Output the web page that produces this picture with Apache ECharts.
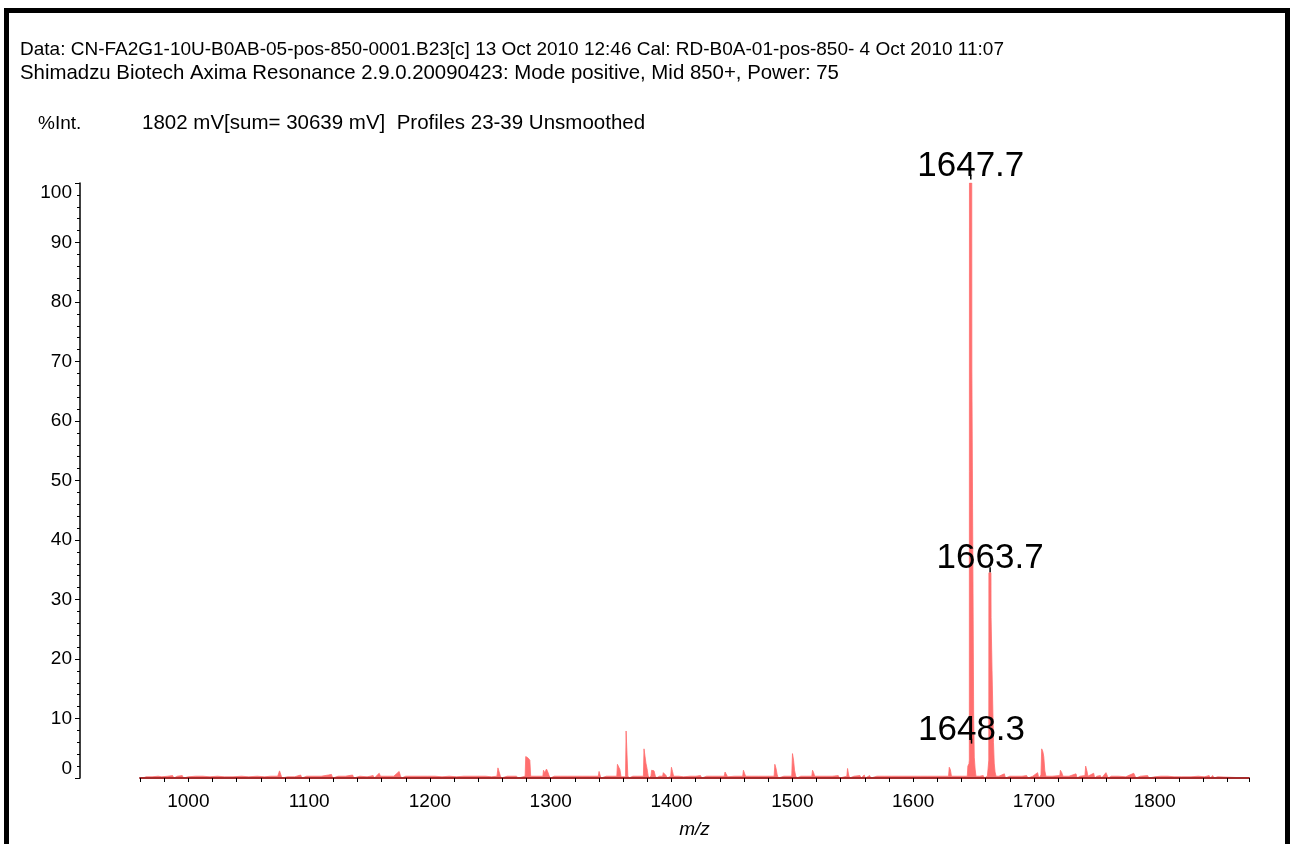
<!DOCTYPE html>
<html>
<head>
<meta charset="utf-8">
<script src="https://cdn.jsdelivr.net/npm/echarts@6/dist/echarts.min.js"></script>
<style>
html,body{margin:0;padding:0;background:#fff;}
#chart{width:1293px;height:844px;}
</style>
</head>
<body>
<div id="chart"></div>
<script>
// ---- header texts ----
const headerLine1 = 'Data: CN-FA2G1-10U-B0AB-05-pos-850-0001.B23[c] 13 Oct 2010 12:46 Cal: RD-B0A-01-pos-850- 4 Oct 2010 11:07';
const headerLine2 = 'Shimadzu Biotech Axima Resonance 2.9.0.20090423: Mode positive, Mid 850+, Power: 75';
const yUnitLabel = '%Int.';
const acquisitionInfo = '1802 mV[sum= 30639 mV]  Profiles 23-39 Unsmoothed';
const xAxisTitle = 'm/z';

// ---- axis ranges ----
const xRange = [960, 1878];
const yRange = [0, 100];

// ---- spectrum profile [m/z, %Int] ----
const profile960to1250 = [
  [960,0],[961.5,0.3],[962.5,0],[965,0.2],[966,0],[970,0.2],[971,0],[975,0.3],[976,0],
  [978,0.2],[979,0],[983,0.3],[984,0],[987,0.4],[988,0],[991,0.3],[992,0],[995,0.4],[996,0],
  [1000,0.2],[1001,0],[1006,0.3],[1007,0],[1012,0.3],[1013,0],[1018,0.2],[1019,0],
  [1024,0.3],[1025,0],[1030,0.2],[1031,0],[1037,0.2],[1038,0],[1044,0.3],[1045,0],
  [1050,0.2],[1051,0],[1057,0.3],[1058,0],[1063,0.2],[1064,0],[1068,0.3],[1069,0],
  [1074,0.3],[1075.5,1.2],[1076.5,1.0],[1077.5,0],[1082,0.2],[1083,0],[1088,0.2],[1089,0],
  [1093,0.5],[1094,0],[1098,0.3],[1099,0],[1104,0.3],[1105,0],[1110,0.3],[1111,0],
  [1116,0.5],[1117.5,0.8],[1118.5,0.6],[1119.5,0],[1124,0.3],[1125,0],[1130,0.3],[1131,0],
  [1136,0.5],[1137,0],[1142,0.3],[1143,0],[1148,0.2],[1149,0],[1153,0.4],[1154,0],
  [1158,0.8],[1159,0.3],[1160,0],[1165,0.3],[1166,0],[1170,0.3],[1171,0],
  [1174.5,1.1],[1175.5,0.4],[1176.5,0],[1180,0.3],[1181,0],[1186,0.3],[1187,0],
  [1192,0.3],[1193,0],[1198,0.3],[1199,0],[1204,0.3],[1205,0],[1210,0.2],[1211,0],
  [1216,0.3],[1217,0],[1222,0.2],[1223,0],[1228,0.3],[1229,0],[1234,0.3],[1235,0],
  [1240,0.3],[1241,0],[1246,0.3],[1247,0]
];
const profile1250to1640 = [
  [1251,0.2],[1252,0],[1255.5,0.3],[1256.3,1.7],[1257.2,1.1],[1258.2,0.4],[1259,0],
  [1264,0.3],[1265,0],[1271.5,0.3],[1272.3,0.6],[1273.2,0],
  [1278.8,0.3],[1279.3,3.6],[1281,3.4],[1282.7,3.0],[1283.4,0.3],[1284.2,0],
  [1288,0.3],[1289,0],[1293.5,0.3],[1294,1.3],[1295,0.9],[1296.5,1.5],[1297.6,1.0],[1298.6,0.4],[1299.6,0],
  [1303,0.3],[1304,0],[1308,0.3],[1309,0],[1314,0.3],[1315,0],[1320,0.3],[1321,0],
  [1326,0.3],[1327,0],[1332,0.3],[1333,0],[1339.4,0.3],[1340,1.1],[1340.8,0.5],[1341.6,0],
  [1346,0.3],[1347,0],[1351,0.3],[1352,0],
  [1354.7,0.3],[1355.2,2.3],[1356.2,2.0],[1357.3,1.4],[1358.2,0.2],[1359,0],
  [1361.9,0.2],[1362.4,7.9],[1363.1,7.6],[1363.8,0.4],[1364.6,0],
  [1368,0.3],[1369,0],[1372,0.3],[1373,0],
  [1376.7,0.3],[1377.2,4.9],[1378.2,4.6],[1378.8,2.5],[1379.7,1.6],[1380.6,0.4],[1381.5,0],
  [1383,0.4],[1383.5,1.3],[1384.5,1.0],[1385.5,1.2],[1386.5,0.4],[1387.4,0],
  [1390,0.3],[1391,0],[1392.6,0.3],[1393.2,0.9],[1394.5,0.8],[1395.5,0.4],[1396.4,0],
  [1399.3,0.3],[1399.9,1.8],[1400.8,1.1],[1401.7,0.3],[1402.6,0],
  [1406,0.3],[1407,0],[1410,0.2],[1411,0],[1415.4,0.3],[1416,0.5],[1416.8,0],
  [1420,0.3],[1421,0],[1424,0.4],[1425,0],[1429,0.3],[1430,0],[1434,0.3],[1435,0],
  [1439,0.3],[1440,0],[1443.6,0.3],[1444.3,1.0],[1445.6,1.0],[1446.4,0.2],[1447.2,0],
  [1452,0.3],[1453,0],[1458.9,0.3],[1459.5,1.3],[1460.4,0.8],[1461.3,0.3],[1462.2,0],
  [1466,0.3],[1467,0],[1472,0.3],[1473,0],[1478,0.3],[1479,0],
  [1484.9,0.3],[1485.5,2.3],[1486.5,1.6],[1487.4,0.6],[1488.3,0],[1493,0.3],[1494,0],
  [1499.5,0.3],[1500.1,4.1],[1501,3.0],[1501.8,1.3],[1502.7,0.4],[1503.6,0],
  [1507,0.3],[1508,0],[1512,0.3],[1513,0],
  [1516.1,0.3],[1516.7,1.3],[1517.6,0.9],[1518.5,0.3],[1519.4,0],
  [1523,0.3],[1524,0],[1528,0.3],[1529,0],[1533,0.3],[1534,0],[1538,0.4],[1539,0],
  [1545.1,0.3],[1545.7,1.6],[1546.6,0.5],[1547.5,0],[1551,0.3],[1552,0],[1556,0.4],[1557,0],
  [1559.5,0.5],[1560.4,0],[1564,0.4],[1565,0],[1570,0.3],[1571,0],[1576,0.3],[1577,0],
  [1582,0.3],[1583,0],[1588,0.3],[1589,0],[1594,0.3],[1595,0],[1600,0.3],[1601,0],
  [1606,0.3],[1607,0],[1612,0.3],[1613,0],[1618,0.3],[1619,0],[1624,0.3],[1625,0],
  [1629.3,0.3],[1629.9,1.8],[1630.8,1.4],[1631.7,0.3],[1632.6,0],[1637,0.3],[1638,0]
];
const profile1640to1670 = [
  [1641,0.3],[1642,0],[1644.8,0.3],[1645.3,2.0],[1646.2,2.4],[1646.5,3.0],
  [1646.6,100],[1648.5,100],[1648.6,68.7],[1650.0,68.7],[1650.1,10],
  [1650.6,3.5],[1651.3,1.5],[1652.0,0.3],[1652.8,0],
  [1655,0.3],[1656,0],[1658,0.4],[1659,0],
  [1661.4,0.3],[1662.0,1.5],[1662.6,3.0],[1662.7,34.5],[1664.4,34.5],
  [1664.5,27],[1665.2,27],[1665.3,18],[1666.3,18],[1666.5,6],
  [1667.1,2.5],[1667.8,1.0],[1668.6,0.3],[1669.4,0]
];
const profile1670to1878 = [
  [1671,0.3],[1672,0],[1675.5,0.7],[1676.4,0],[1680,0.3],[1681,0],[1685,0.3],[1686,0],
  [1690,0.3],[1691,0],[1694,0.4],[1695,0],[1699,0.3],[1700,0],[1703,0.9],[1704,0],
  [1705.8,0.5],[1706.4,4.9],[1707.4,4.4],[1708.1,3.6],[1709,1.2],[1709.9,0.3],[1710.8,0],
  [1715,0.3],[1716,0],[1721.4,0.4],[1721.9,1.3],[1723,0.9],[1724,0.3],[1725,0],
  [1729,0.3],[1730,0],[1734.8,0.7],[1735.7,0],[1738,0.3],[1739,0],
  [1742.2,0.4],[1742.8,2.0],[1743.8,1.2],[1744.7,0.3],[1745.6,0],
  [1749.4,0.8],[1750.3,0],[1752,0.3],[1753,0],[1755,0.4],[1756,0],
  [1759.6,0.9],[1760.6,0.7],[1761.5,0],[1764,0.3],[1765,0],[1770,0.3],[1771,0],
  [1776,0.2],[1777,0],[1782.6,0.8],[1783.5,0.5],[1784.4,0],[1788,0.3],[1789,0],
  [1794.2,0.4],[1795,0],[1800,0.2],[1801,0],[1805,0.3],[1806,0],[1810.8,0.3],[1811.6,0],
  [1816,0.2],[1817,0],[1822,0.2],[1823,0],[1830,0.2],[1831,0],[1836,0.3],[1837,0],
  [1841,0.2],[1842,0],[1845,0.4],[1846,0],[1848,0.4],[1849,0],[1852,0.2],[1853,0],
  [1878,0]
];

// ---- peak annotations ----
const labelMz = [1647.7, 1663.7, 1648.3];
const labelIntensity = [101.0, 35.0, 6.2];

const FONT = '"Liberation Sans", Arial, sans-serif';
const PEAK_COLOR = '#ff6f6f';

const spectrum = profile960to1250.concat(profile1250to1640, profile1640to1670, profile1670to1878);
const annotations = labelMz.map((m, i) => [m, labelIntensity[i]]);

const chart = echarts.init(document.getElementById('chart'), null, {renderer: 'canvas'});
chart.setOption({
  animation: false,
  backgroundColor: '#fff',
  textStyle: {fontFamily: FONT},
  grid: {left: 140, right: 44, top: 183, bottom: 64, containLabel: false},
  xAxis: {
    type: 'value',
    min: xRange[0], max: xRange[1], interval: 20,
    z: 5,
    axisLine: {show: true, onZero: true, lineStyle: {color: '#a52c2c', width: 2}},
    axisTick: {show: true, length: 4, lineStyle: {color: '#000', width: 1}},
    axisLabel: {
      show: true, margin: 14, fontSize: 19, color: '#000', fontFamily: FONT,
      formatter: v => (Math.round(v) % 100 === 0 ? String(Math.round(v)) : '')
    },
    splitLine: {show: false},
    name: xAxisTitle, nameLocation: 'middle', nameGap: 42,
    nameTextStyle: {fontSize: 19, fontStyle: 'italic', color: '#000', fontFamily: FONT}
  },
  yAxis: {
    type: 'value',
    min: yRange[0], max: yRange[1], interval: 10,
    position: 'left', offset: 60,
    axisLine: {show: true, lineStyle: {color: '#000', width: 1.5}},
    axisTick: {show: true, length: 5, lineStyle: {color: '#000', width: 1}},
    minorTick: {show: true, splitNumber: 5, length: 3, lineStyle: {color: '#000', width: 1}},
    axisLabel: {
      show: true, margin: 8, fontSize: 19, color: '#000', fontFamily: FONT,
      verticalAlignMinLabel: 'bottom', verticalAlignMaxLabel: 'top'
    },
    splitLine: {show: false}
  },
  series: [
    {
      type: 'line',
      data: spectrum,
      showSymbol: false,
      symbol: 'none',
      sampling: false,
      lineStyle: {color: PEAK_COLOR, width: 0.8},
      areaStyle: {color: PEAK_COLOR, opacity: 1},
      z: 2
    },
    {
      type: 'scatter',
      data: annotations,
      clip: false,
      symbol: 'rect',
      symbolSize: [1.5, 5],
      itemStyle: {color: '#000', opacity: 1},
      z: 6,
      labelLayout: {hideOverlap: false},
      label: {
        show: true, position: 'top', distance: -9,
        fontSize: 35, color: '#000', opacity: 1, fontFamily: FONT,
        formatter: p => p.value[0].toFixed(1)
      }
    }
  ],
  graphic: [
    {type: 'rect', silent: true, z: 10,
     shape: {x: 6.5, y: 10.5, width: 1281, height: 900},
     style: {fill: 'none', stroke: '#000', lineWidth: 5}},
    {type: 'text', left: 20, top: 40, z: 10,
     style: {text: headerLine1, font: '19px ' + FONT, fill: '#000'}},
    {type: 'text', left: 20, top: 63, z: 10,
     style: {text: headerLine2, font: '20.4px ' + FONT, fill: '#000'}},
    {type: 'text', left: 38, top: 114, z: 10,
     style: {text: yUnitLabel, font: '19px ' + FONT, fill: '#000'}},
    {type: 'text', left: 142, top: 113, z: 10,
     style: {text: acquisitionInfo, font: '20.5px ' + FONT, fill: '#000'}}
  ]
});
</script>
</body>
</html>
